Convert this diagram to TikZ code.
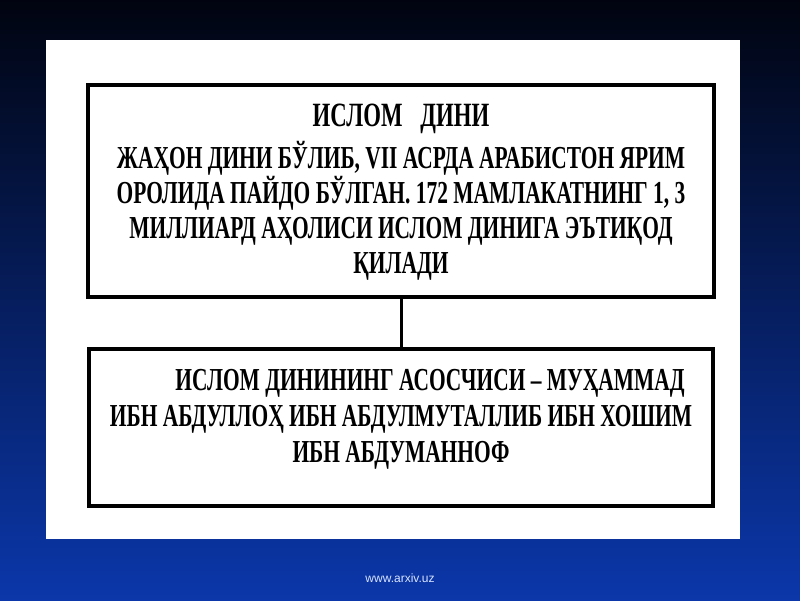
\documentclass[tikz,border=0pt]{standalone}
\usepackage{fontspec}
\newfontfamily\boxfont{Liberation Serif}[FakeStretch=0.67]
\newfontfamily\footfont{Liberation Sans}
\definecolor{bgtop}{RGB}{1,4,16}
\definecolor{bgmid}{RGB}{9,40,128}
\definecolor{bgbot}{RGB}{11,55,170}
\definecolor{foottxt}{RGB}{215,228,255}
\tikzset{
  framebox/.style={draw=black, line width=4pt, fill=white, inner sep=0pt},
  boxtext/.style={align=center, inner sep=0pt, font=\boxfont\bfseries\fontsize{32}{35}\selectfont},
  linkline/.style={draw=black, line width=3pt}
}
\begin{document}
\begin{tikzpicture}[x=1pt,y=1pt]
\useasboundingbox (0,0) rectangle (800,600);
\shade[top color=bgtop, middle color=bgmid, bottom color=bgbot] (0,0) rectangle (800,600);
\fill[white] (46,61) rectangle (740,560);
\node[framebox, minimum width=626pt, minimum height=212pt] (b1) at (401,409) {};
\node[framebox, minimum width=624pt, minimum height=157pt] (b2) at (401,172.5) {};
\draw[linkline] (b1.south) -- (b2.north);
\node[boxtext] (t1) at ([yshift=-1pt]b1.center) {{\fontsize{34}{35}\selectfont ИСЛОМ\hspace{18pt}ДИНИ}\\[7pt]ЖАҲОН ДИНИ БЎЛИБ, VII АСРДА АРАБИСТОН ЯРИМ\\ОРОЛИДА ПАЙДО БЎЛГАН. 172 МАМЛАКАТНИНГ 1, 3\\МИЛЛИАРД АҲОЛИСИ ИСЛОМ ДИНИГА ЭЪТИҚОД\\ҚИЛАДИ};
\node[boxtext, font=\boxfont\bfseries\fontsize{32}{36}\selectfont] (t2) at ([yshift=8pt]b2.center) {\hspace*{58pt}ИСЛОМ ДИНИНИНГ АСОСЧИСИ – МУҲАММАД\\ИБН АБДУЛЛОҲ ИБН АБДУЛМУТАЛЛИБ ИБН ХОШИМ\\ИБН АБДУМАННОФ};
\node[font=\footfont\fontsize{12}{14}\selectfont, text=foottxt, inner sep=0pt] (ft) at (400,22) {www.arxiv.uz};
\end{tikzpicture}
\end{document}
